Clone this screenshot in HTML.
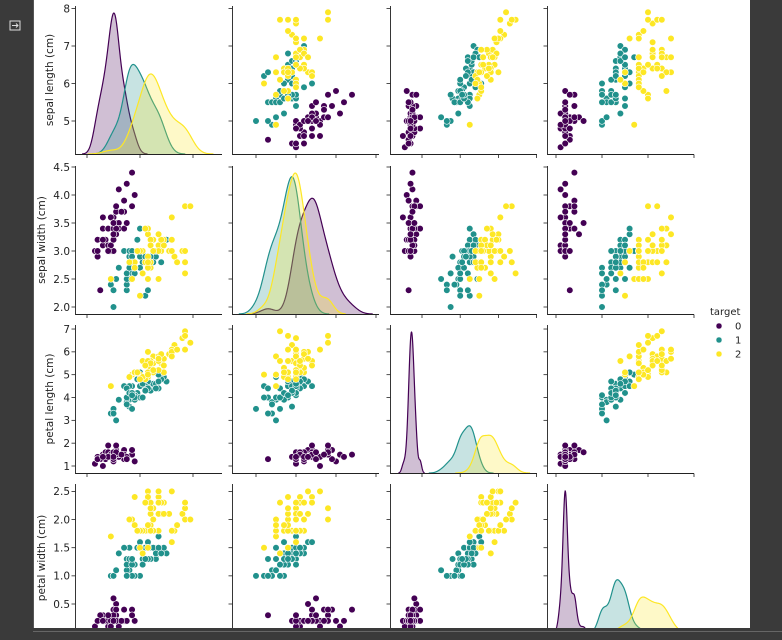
<!DOCTYPE html>
<html><head><meta charset="utf-8"><style>
html,body{margin:0;padding:0;background:#fff;width:782px;height:640px;overflow:hidden}
svg{display:block;font-family:"DejaVu Sans","Liberation Sans",sans-serif}
</style></head><body>
<svg id="chart" width="782" height="640" viewBox="0 0 782 640">
<rect x="0" y="0" width="782" height="640" fill="#fff"/>
<g id="panels"></g>
<g id="legend">
<text x="710" y="315" font-size="10" fill="#222">target</text>
</g>
<rect x="0" y="0" width="33" height="640" fill="#3a3a3a"/>
<line x1="33.5" y1="0" x2="33.5" y2="640" stroke="#555"/>
<g stroke="#ddd" fill="none" stroke-width="1">
<rect x="10" y="21" width="10" height="9"/>
<path d="M12 25.5h6M16 23.5l2 2-2 2"/>
</g>
<rect x="750" y="0" width="32" height="640" fill="#3a3a3a"/>
<rect x="33" y="628" width="717" height="12" fill="#3a3a3a"/>
<line x1="33" y1="631.5" x2="782" y2="631.5" stroke="#666"/>
</svg>
<script>
const features = ["sepal length (cm)","sepal width (cm)","petal length (cm)","petal width (cm)"];
const classes = ["0","1","2"];
const sepalLength = [5.1,4.9,4.7,4.6,5.0,5.4,4.6,5.0,4.4,4.9,5.4,4.8,4.8,4.3,5.8,5.7,5.4,5.1,5.7,5.1,5.4,5.1,4.6,5.1,4.8,5.0,5.0,5.2,5.2,4.7,4.8,5.4,5.2,5.5,4.9,5.0,5.5,4.9,4.4,5.1,5.0,4.5,4.4,5.0,5.1,4.8,5.1,4.6,5.3,5.0,
7.0,6.4,6.9,5.5,6.5,5.7,6.3,4.9,6.6,5.2,5.0,5.9,6.0,6.1,5.6,6.7,5.6,5.8,6.2,5.6,5.9,6.1,6.3,6.1,6.4,6.6,6.8,6.7,6.0,5.7,5.5,5.5,5.8,6.0,5.4,6.0,6.7,6.3,5.6,5.5,5.5,6.1,5.8,5.0,5.6,5.7,5.7,6.2,5.1,5.7,
6.3,5.8,7.1,6.3,6.5,7.6,4.9,7.3,6.7,7.2,6.5,6.4,6.8,5.7,5.8,6.4,6.5,7.7,7.7,6.0,6.9,5.6,7.7,6.3,6.7,7.2,6.2,6.1,6.4,7.2,7.4,7.9,6.4,6.3,6.1,7.7,6.3,6.4,6.0,6.9,6.7,6.9,5.8,6.8,6.7,6.7,6.3,6.5,6.2,5.9];
const sepalWidth = [3.5,3.0,3.2,3.1,3.6,3.9,3.4,3.4,2.9,3.1,3.7,3.4,3.0,3.0,4.0,4.4,3.9,3.5,3.8,3.8,3.4,3.7,3.6,3.3,3.4,3.0,3.4,3.5,3.4,3.2,3.1,3.4,4.1,4.2,3.1,3.2,3.5,3.6,3.0,3.4,3.5,2.3,3.2,3.5,3.8,3.0,3.8,3.2,3.7,3.3,
3.2,3.2,3.1,2.3,2.8,2.8,3.3,2.4,2.9,2.7,2.0,3.0,2.2,2.9,2.9,3.1,3.0,2.7,2.2,2.5,3.2,2.8,2.5,2.8,2.9,3.0,2.8,3.0,2.9,2.6,2.4,2.4,2.7,2.7,3.0,3.4,3.1,2.3,3.0,2.5,2.6,3.0,2.6,2.3,2.7,3.0,2.9,2.9,2.5,2.8,
3.3,2.7,3.0,2.9,3.0,3.0,2.5,2.9,2.5,3.6,3.2,2.7,3.0,2.5,2.8,3.2,3.0,3.8,2.6,2.2,3.2,2.8,2.8,2.7,3.3,3.2,2.8,3.0,2.8,3.0,2.8,3.8,2.8,2.8,2.6,3.0,3.4,3.1,3.0,3.1,3.1,3.1,2.7,3.2,3.3,3.0,2.5,3.0,3.4,3.0];
const petalLength = [1.4,1.4,1.3,1.5,1.4,1.7,1.4,1.5,1.4,1.5,1.5,1.6,1.4,1.1,1.2,1.5,1.3,1.4,1.7,1.5,1.7,1.5,1.0,1.7,1.9,1.6,1.6,1.5,1.4,1.6,1.6,1.5,1.5,1.4,1.5,1.2,1.3,1.4,1.3,1.5,1.3,1.3,1.3,1.6,1.9,1.4,1.6,1.4,1.5,1.4,
4.7,4.5,4.9,4.0,4.6,4.5,4.7,3.3,4.6,3.9,3.5,4.2,4.0,4.7,3.6,4.4,4.5,4.1,4.5,3.9,4.8,4.0,4.9,4.7,4.3,4.4,4.8,5.0,4.5,3.5,3.8,3.7,3.9,5.1,4.5,4.5,4.7,4.4,4.1,4.0,4.4,4.6,4.0,3.3,4.2,4.2,4.2,4.3,3.0,4.1,
6.0,5.1,5.9,5.6,5.8,6.6,4.5,6.3,5.8,6.1,5.1,5.3,5.5,5.0,5.1,5.3,5.5,6.7,6.9,5.0,5.7,4.9,6.7,4.9,5.7,6.0,4.8,4.9,5.6,5.8,6.1,6.4,5.6,5.1,5.6,6.1,5.6,5.5,4.8,5.4,5.6,5.1,5.1,5.9,5.7,5.2,5.0,5.2,5.4,5.1];
const petalWidth = [0.2,0.2,0.2,0.2,0.2,0.4,0.3,0.2,0.2,0.1,0.2,0.2,0.1,0.1,0.2,0.4,0.4,0.3,0.3,0.3,0.2,0.4,0.2,0.5,0.2,0.2,0.4,0.2,0.2,0.2,0.2,0.4,0.1,0.2,0.2,0.2,0.2,0.1,0.2,0.2,0.3,0.3,0.2,0.6,0.4,0.3,0.2,0.2,0.2,0.2,
1.4,1.5,1.5,1.3,1.5,1.3,1.6,1.0,1.3,1.4,1.0,1.5,1.0,1.4,1.3,1.4,1.5,1.0,1.5,1.1,1.8,1.3,1.5,1.2,1.3,1.4,1.4,1.7,1.5,1.0,1.1,1.0,1.2,1.6,1.5,1.6,1.5,1.3,1.3,1.3,1.2,1.4,1.2,1.0,1.3,1.2,1.3,1.3,1.1,1.3,
2.5,1.9,2.1,1.8,2.2,2.1,1.7,1.8,1.8,2.5,2.0,1.9,2.1,2.0,2.4,2.3,1.8,2.2,2.3,1.5,2.3,2.0,2.0,1.8,2.1,1.8,1.8,1.8,2.1,1.6,1.9,2.0,2.2,1.5,1.4,2.3,2.4,1.8,1.8,2.1,2.4,2.3,1.9,2.3,2.5,2.3,1.9,2.0,2.3,1.8];
const target = [];
for (let i = 0; i < 150; i++) target.push(i < 50 ? 0 : (i < 100 ? 1 : 2));
const yTicks = [[4,5,6,7,8],[2.0,2.5,3.0,3.5,4.0,4.5],[1,2,3,4,5,6,7],[0.0,0.5,1.0,1.5,2.0,2.5]];
const xTicks = [[4,6,8],[2,3,4,5],[2,4,6,8],[0,1,2,3]];
const yTickLabels = [["4","5","6","7","8"],["2.0","2.5","3.0","3.5","4.0","4.5"],["1","2","3","4","5","6","7"],["0.0","0.5","1.0","1.5","2.0","2.5"]];

const NS = "http://www.w3.org/2000/svg";
const data = [sepalLength, sepalWidth, petalLength, petalWidth];
const colors = ["#440154","#21918c","#fde725"];
const panelLeft = [75, 232, 390, 547], panelW = 147;
const panelTop = [6, 166, 325, 484], panelH = 148;
const titleX = [53, 45, 53, 45];
const xScale = [
  v => 87 + (v - 4) * 26.5,
  v => 296 + (v - 3) * 40,
  v => 422 + (v - 2) * 19.1,
  v => 556 + v * 46
];
const yScale = [
  v => 121 - (v - 5) * 37.5,
  v => 307 - (v - 2) * 56,
  v => 466 - (v - 1) * 22.83,
  v => 604 - (v - 0.5) * 56.3
];
const root = document.getElementById("panels");
function mk(tag, attrs, parent) {
  const e = document.createElementNS(NS, tag);
  for (const k in attrs) e.setAttribute(k, attrs[k]);
  parent.appendChild(e);
  return e;
}
function kde(vals, x, bw) {
  let s = 0;
  for (const v of vals) { const z = (x - v) / bw; s += Math.exp(-0.5 * z * z); }
  return s / (vals.length * bw * Math.sqrt(2 * Math.PI));
}
const shortNames = ["sepal-length","sepal-width","petal-length","petal-width"];
for (let r = 0; r < 4; r++) {
  for (let c = 0; c < 4; c++) {
    const g = mk("g", {}, root);
    
    
    const L = panelLeft[c], T = panelTop[r], B = T + panelH, R = L + panelW;
    const clipId = "clip" + r + c;
    const cp = mk("clipPath", {id: clipId}, g);
    mk("rect", {x: L - 4, y: T - 4, width: panelW + 8, height: panelH + 4}, cp);
    const marks = mk("g", {"clip-path": "url(#" + clipId + ")"}, g);
    
    
    if (r === c) {
      const curves = [];
      let maxD = 0;
      for (let k = 0; k < 3; k++) {
        const vals = data[c].filter((v, i) => target[i] === k);
        const n = vals.length;
        const mean = vals.reduce((a, b) => a + b, 0) / n;
        const sd = Math.sqrt(vals.reduce((a, b) => a + (b - mean) * (b - mean), 0) / (n - 1));
        const bw = sd * Math.pow(n, -0.2);
        const lo = Math.min(...vals) - 3 * bw, hi = Math.max(...vals) + 3 * bw;
        const pts = [];
        for (let i = 0; i <= 200; i++) {
          const x = lo + (hi - lo) * i / 200;
          const d = kde(vals, x, bw) * n / 150;
          maxD = Math.max(maxD, d);
          pts.push([x, d]);
        }
        curves.push(pts);
      }
      const ymax = maxD * 1.05;
      for (let k = 0; k < 3; k++) {
        const pts = curves[k];
        const py = d => B - d / ymax * panelH;
        let line = pts.map((p, i) => (i ? "L" : "M") + xScale[c](p[0]).toFixed(2) + " " + py(p[1]).toFixed(2)).join("");
        const area = line + "L" + xScale[c](pts[pts.length - 1][0]).toFixed(2) + " " + B + "L" + xScale[c](pts[0][0]).toFixed(2) + " " + B + "Z";
        const a = mk("path", {d: area, fill: colors[k], "fill-opacity": 0.25, stroke: "none"}, marks);
        
        
        const l = mk("path", {d: line, fill: "none", stroke: colors[k], "stroke-width": 1.2}, marks);
        
        
      }
    } else {
      for (let i = 0; i < 150; i++) {
        const p = mk("circle", {cx: xScale[c](data[c][i]).toFixed(2), cy: yScale[r](data[r][i]).toFixed(2), r: 3.3, fill: colors[target[i]], stroke: "#fff", "stroke-width": 0.6}, marks);
        
        
      }
    }
    const sp = mk("path", {d: "M" + (L + 0.5) + " " + T + "V" + (B + 0.5) + "H" + R, fill: "none", stroke: "#222", "stroke-width": 0.9}, g);
    
    
    yTicks[r].forEach((t, ti) => {
      const y = yScale[r](t);
      if (y < T - 0.5 || y > B + 0.5) return;
      const tk = mk("line", {x1: L - 3.5, x2: L + 0.5, y1: y, y2: y, stroke: "#222", "stroke-width": 0.8}, g);
      
      
      if (c === 0) {
        const tx = mk("text", {x: L - 5, y: y + 3.8, "text-anchor": "end", "font-size": 10.5, fill: "#222"}, g);
        tx.textContent = yTickLabels[r][ti];
        
        
      }
    });
    xTicks[c].forEach(t => {
      const x = xScale[c](t);
      if (x < L - 0.5 || x > R + 0.5) return;
      const tk = mk("line", {x1: x, x2: x, y1: B + 0.5, y2: B + 4, stroke: "#222", "stroke-width": 0.8}, g);
      
      
    });
    if (c === 0) {
      const cy = T + panelH / 2;
      const lab = mk("text", {x: 0, y: 0, transform: "translate(" + titleX[r] + "," + cy + ") rotate(-90)", "text-anchor": "middle", "font-size": 10.5, fill: "#222"}, g);
      lab.textContent = features[r];
      
      
    }
  }
}
const leg = document.getElementById("legend");
classes.forEach((name, k) => {
  const y = 326 + k * 14;
  const g = mk("g", {}, leg);
  
  
  mk("circle", {cx: 719, cy: y, r: 3, fill: colors[k], stroke: "#fff", "stroke-width": 0.5}, g);
  const t = mk("text", {x: 735, y: y + 3.5, "font-size": 10, fill: "#222"}, g);
  t.textContent = name;
});
</script>
</body></html>
